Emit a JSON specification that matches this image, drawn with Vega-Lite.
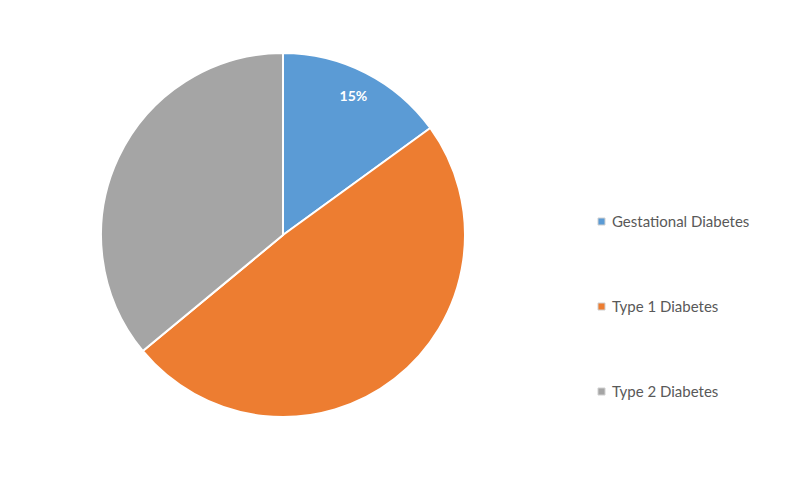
{
  "$schema": "https://vega.github.io/schema/vega-lite/v6.json",
  "width": 566,
  "height": 470,
  "padding": {"left": 0, "top": 0, "right": 40, "bottom": 16},
  "background": "white",
  "config": {"view": {"stroke": null}},
  "data": {"values": [
    {"type": "Gestational Diabetes", "share": 15, "label": "15%"},
    {"type": "Type 1 Diabetes", "share": 49, "label": ""},
    {"type": "Type 2 Diabetes", "share": 36, "label": ""}
  ]},
  "encoding": {
    "theta": {"field": "share", "type": "quantitative", "stack": true},
    "order": {"field": "type", "type": "nominal"}
  },
  "layer": [
    {
      "mark": {"type": "arc", "outerRadius": 182, "stroke": "white", "strokeWidth": 2},
      "encoding": {
        "color": {
          "field": "type", "type": "nominal",
          "scale": {"domain": ["Gestational Diabetes", "Type 1 Diabetes", "Type 2 Diabetes"], "range": ["#5B9BD5", "#ED7D31", "#A5A5A5"]},
          "legend": {
            "title": null, "orient": "none", "legendX": 594, "legendY": 214,
            "symbolType": "square", "symbolSize": 49, "symbolStrokeWidth": 1, "symbolStrokeColor": "#d0d0d0",
            "labelFont": "Lato", "labelFontSize": 15, "labelColor": "#595959",
            "rowPadding": 69, "labelOffset": 3
          }
        }
      }
    },
    {
      "mark": {"type": "text", "radius": 155, "font": "Lato", "fontSize": 14, "fontWeight": "bold", "color": "white"},
      "encoding": {"text": {"field": "label", "type": "nominal"}}
    }
  ]
}
